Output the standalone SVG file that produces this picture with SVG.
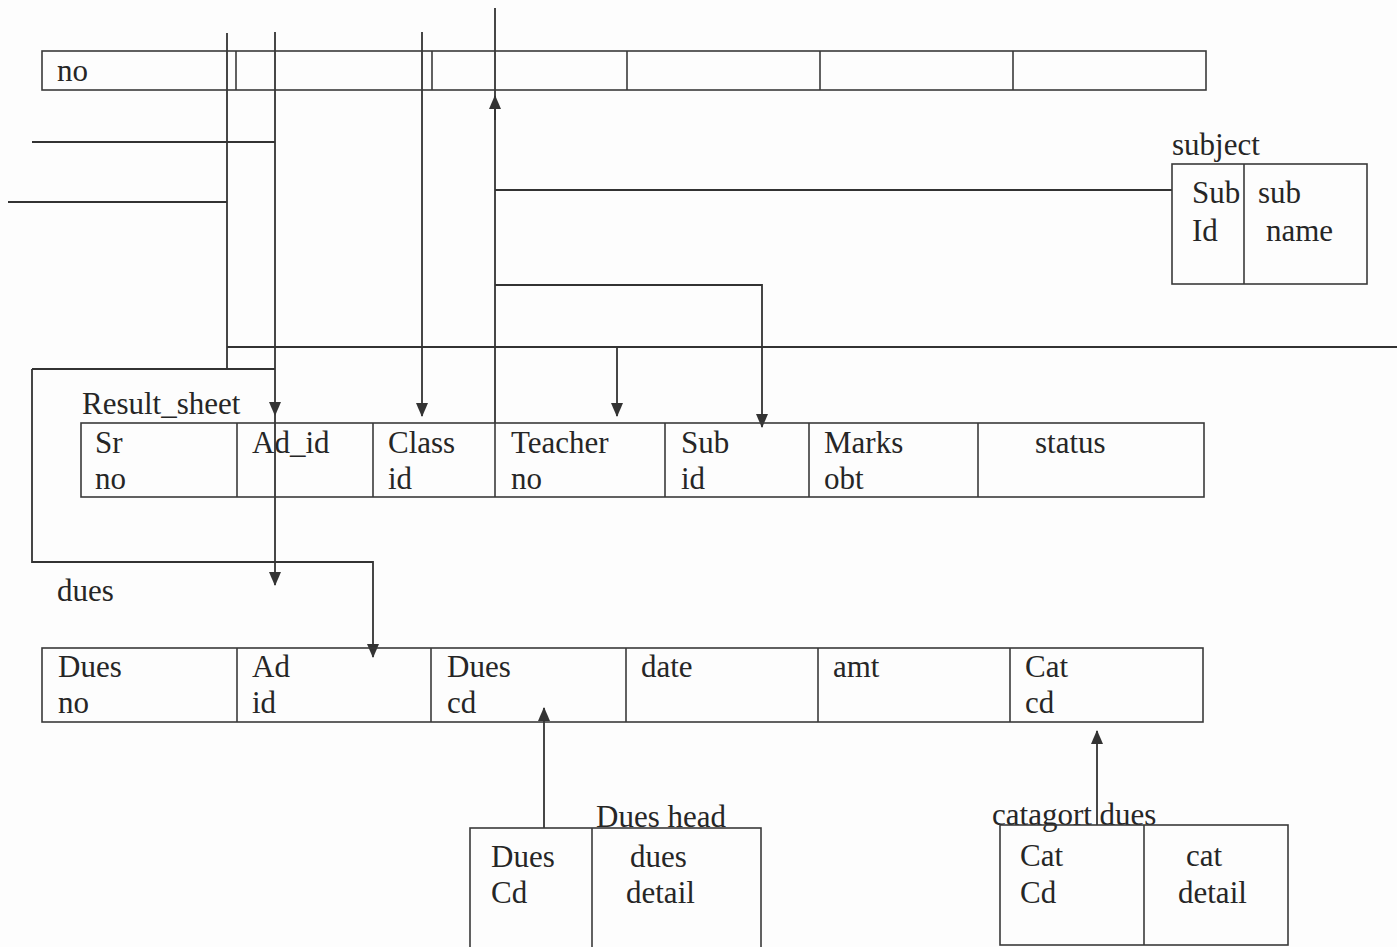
<svg xmlns="http://www.w3.org/2000/svg" width="1397" height="947" viewBox="0 0 1397 947">
<style>
.box{fill:none;stroke:#3a3a3a;stroke-width:1.6}
.div{stroke:#3a3a3a;stroke-width:1.6}
.t{font-family:"Liberation Serif","Times New Roman",serif;font-size:31px;fill:#262626}
.c{fill:none;stroke:#333;stroke-width:1.8}
.a{fill:none;stroke:#333;stroke-width:1.8;marker-end:url(#ah)}
</style>
<defs>
<marker id="ah" viewBox="0 0 14 12" refX="13" refY="6" markerWidth="14" markerHeight="12" markerUnits="userSpaceOnUse" orient="auto">
<path d="M0,0 L14,6 L0,12 Z" fill="#333"/>
</marker>
</defs>
<rect width="1397" height="947" fill="#fdfdfd"/>

<g id="connectors">
<!-- x=227 line -->
<path class="c" d="M227,33 V369"/>
<path class="c" d="M8,202 H227"/>
<path class="c" d="M32,142 H275"/>
<path class="c" d="M227,347 H1397"/>
<path class="a" d="M617,347 V416"/>
<path class="c" d="M32,369 H275"/>
<path class="a" d="M32,369 V562 H373 V657"/>
<!-- x=275 line -->
<path class="a" d="M275,32 V415"/>
<path class="a" d="M275,415 V585"/>
<!-- x=422 line -->
<path class="a" d="M422,32 V416"/>
<!-- x=495 line -->
<path class="c" d="M495,8 V423"/>
<path class="a" d="M495,120 V96"/>
<path class="c" d="M495,190 H1172"/>
<path class="a" d="M495,285 H762 V427"/>
<!-- bottom arrows -->
<path class="a" d="M544,828 V708"/>
<path class="a" d="M1097,825 V731"/>
</g>

<g id="top-table">
<rect class="box" x="42" y="51" width="1164" height="39"/>
<line class="div" x1="236" y1="51" x2="236" y2="90"/>
<line class="div" x1="432" y1="51" x2="432" y2="90"/>
<line class="div" x1="627" y1="51" x2="627" y2="90"/>
<line class="div" x1="820" y1="51" x2="820" y2="90"/>
<line class="div" x1="1013" y1="51" x2="1013" y2="90"/>
<text class="t" x="57" y="81">no</text>
</g>

<g id="subject">
<text class="t" x="1172" y="155">subject</text>
<rect class="box" x="1172" y="164" width="195" height="120"/>
<line class="div" x1="1244" y1="164" x2="1244" y2="284"/>
<text class="t" x="1192" y="203">Sub</text>
<text class="t" x="1192" y="241">Id</text>
<text class="t" x="1258" y="203">sub</text>
<text class="t" x="1266" y="241">name</text>
</g>

<g id="result-sheet">
<text class="t" x="82" y="414">Result_sheet</text>
<rect class="box" x="81" y="423" width="1123" height="74"/>
<line class="div" x1="237" y1="423" x2="237" y2="497"/>
<line class="div" x1="373" y1="423" x2="373" y2="497"/>
<line class="div" x1="495" y1="423" x2="495" y2="497"/>
<line class="div" x1="665" y1="423" x2="665" y2="497"/>
<line class="div" x1="809" y1="423" x2="809" y2="497"/>
<line class="div" x1="978" y1="423" x2="978" y2="497"/>
<text class="t" x="95" y="453">Sr</text>
<text class="t" x="95" y="489">no</text>
<text class="t" x="252" y="453">Ad_id</text>
<text class="t" x="388" y="453">Class</text>
<text class="t" x="388" y="489">id</text>
<text class="t" x="511" y="453">Teacher</text>
<text class="t" x="511" y="489">no</text>
<text class="t" x="681" y="453">Sub</text>
<text class="t" x="681" y="489">id</text>
<text class="t" x="824" y="453">Marks</text>
<text class="t" x="824" y="489">obt</text>
<text class="t" x="1035" y="453">status</text>
</g>

<g id="dues">
<text class="t" x="57" y="601">dues</text>
<rect class="box" x="42" y="648" width="1161" height="74"/>
<line class="div" x1="237" y1="648" x2="237" y2="722"/>
<line class="div" x1="431" y1="648" x2="431" y2="722"/>
<line class="div" x1="626" y1="648" x2="626" y2="722"/>
<line class="div" x1="818" y1="648" x2="818" y2="722"/>
<line class="div" x1="1010" y1="648" x2="1010" y2="722"/>
<text class="t" x="58" y="677">Dues</text>
<text class="t" x="58" y="713">no</text>
<text class="t" x="252" y="677">Ad</text>
<text class="t" x="252" y="713">id</text>
<text class="t" x="447" y="677">Dues</text>
<text class="t" x="447" y="713">cd</text>
<text class="t" x="641" y="677">date</text>
<text class="t" x="833" y="677">amt</text>
<text class="t" x="1025" y="677">Cat</text>
<text class="t" x="1025" y="713">cd</text>
</g>

<g id="dues-head">
<text class="t" x="596" y="827">Dues head</text>
<rect class="box" x="470" y="828" width="291" height="125"/>
<line class="div" x1="592" y1="828" x2="592" y2="947"/>
<text class="t" x="491" y="867">Dues</text>
<text class="t" x="491" y="903">Cd</text>
<text class="t" x="630" y="867">dues</text>
<text class="t" x="626" y="903">detail</text>
</g>

<g id="catagort-dues">
<text class="t" x="992" y="825">catagort dues</text>
<rect class="box" x="1000" y="825" width="288" height="120"/>
<line class="div" x1="1144" y1="825" x2="1144" y2="945"/>
<text class="t" x="1020" y="866">Cat</text>
<text class="t" x="1020" y="903">Cd</text>
<text class="t" x="1186" y="866">cat</text>
<text class="t" x="1178" y="903">detail</text>
</g>
</svg>
